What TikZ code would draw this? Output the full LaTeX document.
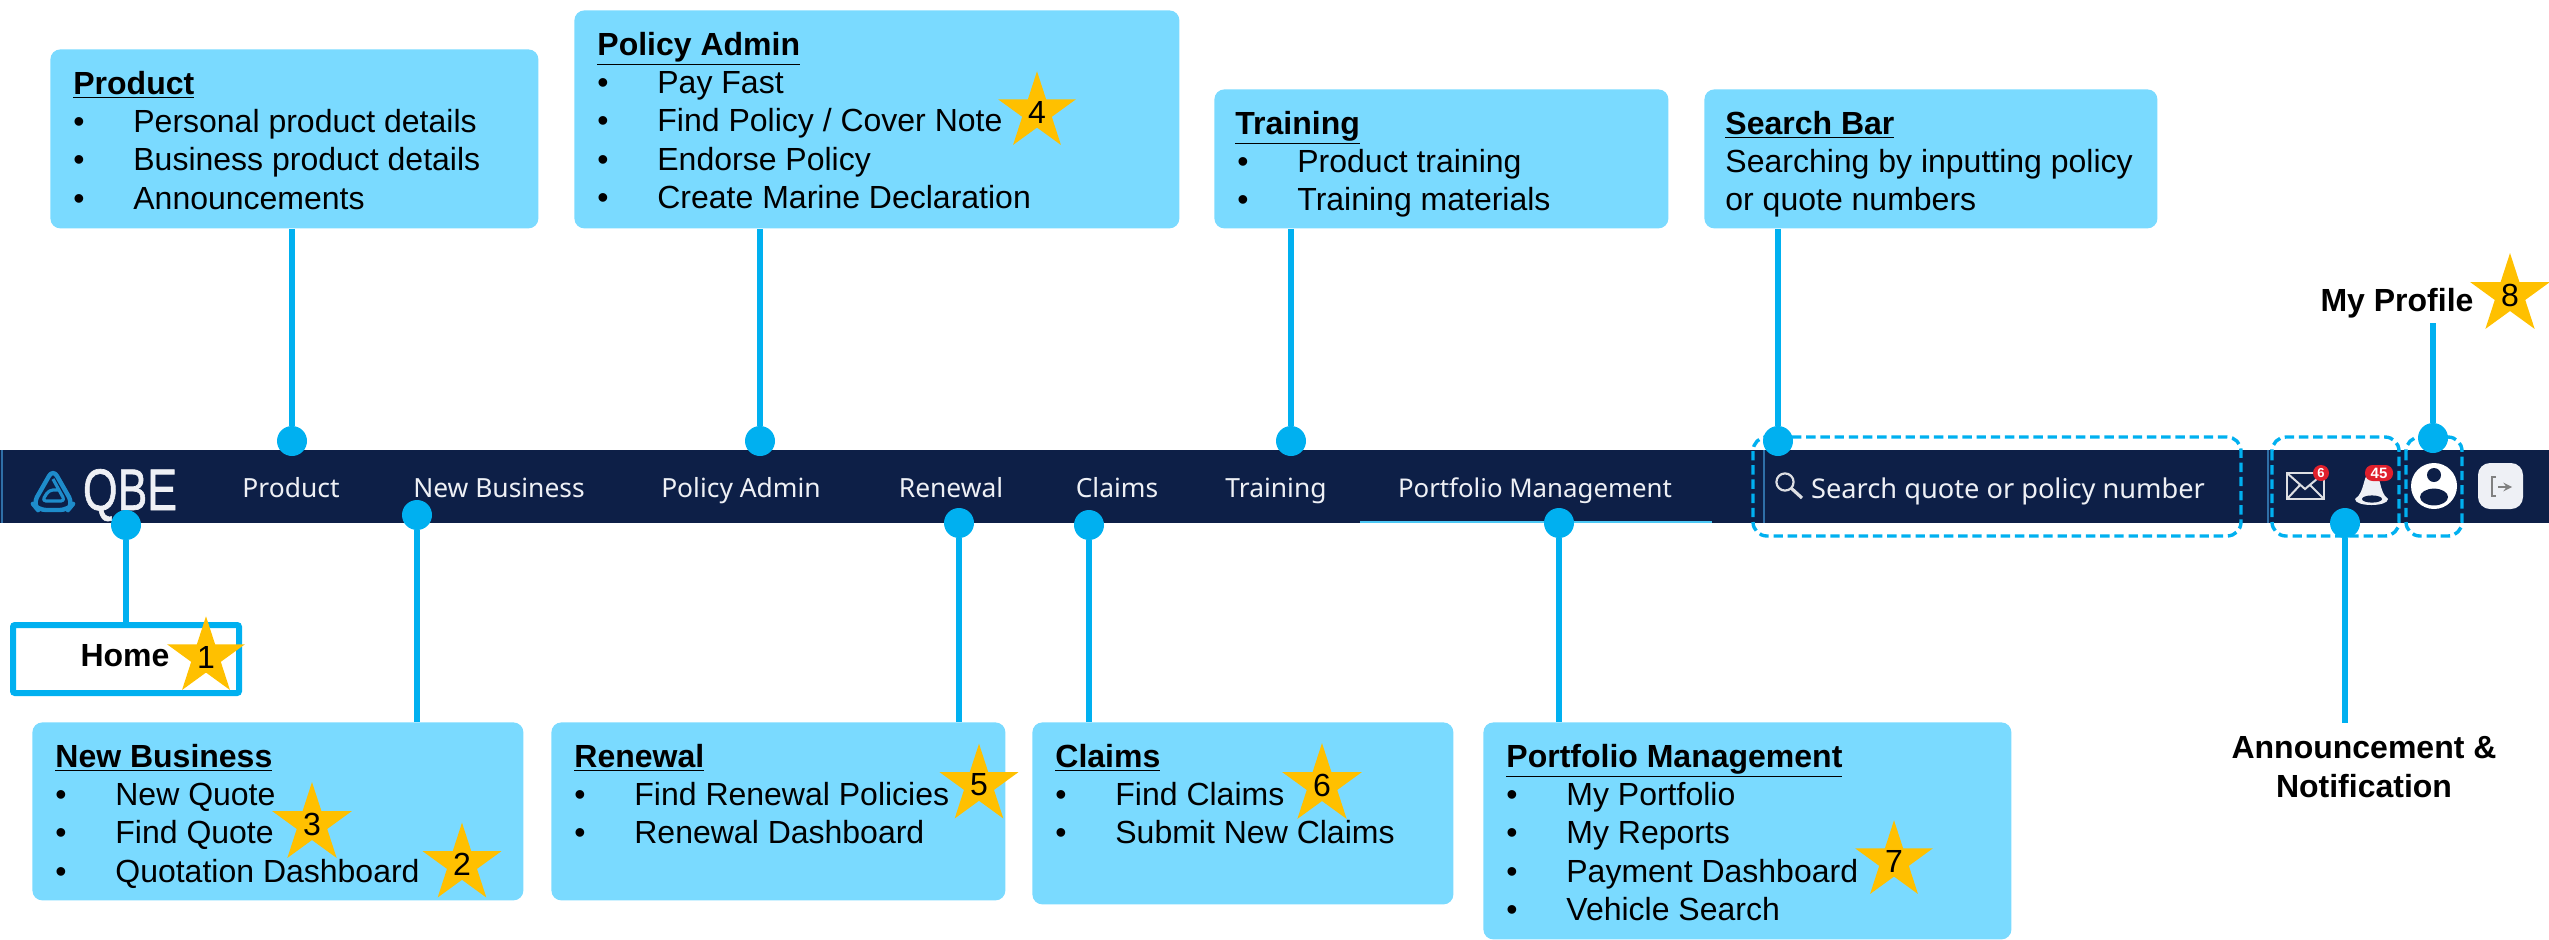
\documentclass[tikz,border=0pt]{standalone}
\usepackage{fontspec}
\usepackage{graphicx}
\setmainfont{Liberation Sans}
\newfontfamily\navfont{Noto Sans}
\newfontfamily\logofont[FakeBold=1.2]{Liberation Sans}
\usetikzlibrary{shapes.geometric}
\definecolor{boxfill}{HTML}{7ADAFF}
\definecolor{linkblue}{HTML}{00B0F0}
\definecolor{starfill}{HTML}{FFC000}
\definecolor{barfill}{HTML}{0D1F47}
\definecolor{navtext}{HTML}{EEF0F5}
\definecolor{logoblue}{HTML}{1E8CCB}
\definecolor{sepblue}{HTML}{2F6FA8}
\definecolor{badge}{HTML}{E0202C}
\newlength\pxu \setlength\pxu{0.5pt}
\newcommand{\infotext}[3]{\parbox[c][\dimexpr#2\pxu-21.5pt\relax][t]{\dimexpr#1\pxu-23pt\relax}{\setlength{\baselineskip}{19.2pt}#3}}
\newcommand{\ttl}[1]{\underline{\textbf{#1}}}
\newcommand{\itm}[1]{\makebox[30pt][l]{•}#1}
\newcommand{\starnum}[1]{\raisebox{-1.7pt}{#1}}
\tikzset{
  infobox/.style={fill=boxfill,rounded corners=5pt,inner xsep=11.5pt,inner ysep=10.75pt,anchor=north west,font=\fontsize{16}{19.2}\selectfont,text=black},
  navlabel/.style={text=navtext,font=\navfont\fontsize{13.2}{16}\selectfont,inner sep=0pt,anchor=base},
  dotmark/.style={circle,fill=linkblue,minimum size=15pt,inner sep=0pt},
  link/.style={draw=linkblue,line width=2.9pt},
  dashbox/.style={draw=linkblue,line width=1.7pt,dash pattern=on 4.7pt off 2.4pt,rounded corners=7pt},
  numstar/.style={star,star points=5,star point ratio=2.618,fill=starfill,minimum size=37pt,inner sep=0pt,font=\fontsize{16}{19.2}\selectfont,text=black},
  boldlabel/.style={font=\bfseries\fontsize{16}{19.2}\selectfont,text=black,align=center,inner sep=0pt},
}
\begin{document}
\begin{tikzpicture}[x=0.5pt,y=-0.5pt]
\useasboundingbox (0,0) rectangle (2549,939);
% nav bar
\fill[barfill] (0,450) rectangle (2549,523);
\draw[sepblue,line width=1pt] (1.5,450) -- (1.5,523);
\draw[sepblue,line width=1pt] (1764,450) -- (1764,523);
\draw[sepblue,line width=1pt] (2268,450) -- (2268,523);
\draw[linkblue!70!white,line width=1pt] (1360,522) -- (1712,522);
% logo
\begin{scope}[logoblue,line join=round]
\draw[line width=2.2pt,rounded corners=4pt] (53,469) -- (73,504) -- (68,510) -- (38,510) -- (33,504) -- cycle;
\draw[line width=1.6pt,rounded corners=2pt] (53,479) -- (65,501) -- (42,501) -- (49,490) -- (60,490);
\end{scope}
\node[inner sep=0pt,text=navtext,font=\logofont\fontsize{29.3}{30}\selectfont,anchor=base] (logotext) at (130,510) {\scalebox{0.76}[1]{QBE}};
% nav labels
\node[navlabel] (navProduct) at (291,497) {Product};
\node[navlabel] (navNew) at (499,497) {New Business};
\node[navlabel] (navPolicy) at (741,497) {Policy Admin};
\node[navlabel] (navRenewal) at (951,497) {Renewal};
\node[navlabel] (navClaims) at (1117,497) {Claims};
\node[navlabel] (navTraining) at (1276,497) {Training};
\node[navlabel,font=\navfont\fontsize{12.9}{16}\selectfont] (navPortfolio) at (1535,497) {Portfolio Management};
\node[navlabel,font=\navfont\fontsize{13.6}{16}\selectfont] (navSearch) at (2008,498) {Search quote or policy number};
% icons
\draw[navtext!85!gray,line width=1.1pt] (1785,482) circle[radius=4.3pt];
\draw[navtext!85!gray,line width=1.6pt] (1791,488) -- (1802,498);
\draw[navtext!85!gray,line width=1.1pt] (2287,473) rectangle (2324,499);
\draw[navtext!85!gray,line width=1pt] (2287,473) -- (2305,489) -- (2324,473);
\draw[navtext!85!gray,line width=1pt] (2287,499) -- (2300,485) (2324,499) -- (2310,485);
\node[circle,fill=badge,minimum size=8pt,inner sep=0pt,text=white,font=\bfseries\fontsize{6.5}{7}\selectfont] (badgeMail) at (2321,473) {6};
\fill[navtext] (2372,472) .. controls (2362,472) and (2366,492) .. (2355,499) .. controls (2355,507) and (2388,507) .. (2388,499) .. controls (2378,492) and (2382,472) .. (2372,472) -- cycle;
\fill[barfill] (2372,499) ellipse[x radius=5pt,y radius=1.8pt];
\node[rectangle,rounded corners=3.8pt,fill=badge,minimum width=14pt,minimum height=8pt,inner sep=0pt,text=white,font=\bfseries\fontsize{7.5}{8}\selectfont] (badgeBell) at (2379,473) {45};
\fill[white] (2434,486) circle[radius=11.5pt];
\fill[barfill] (2434,475) circle[radius=3.5pt];
\fill[barfill] (2434,497) ellipse[x radius=7pt,y radius=4.2pt];
\fill[navtext,rounded corners=6pt] (2478,463) rectangle (2523,509);
\draw[gray,line width=0.9pt] (2496,477) -- (2492,477) -- (2492,496) -- (2496,496);
\draw[gray,line width=0.9pt,->,>=stealth] (2498,487) -- (2512,487);
% dashed highlights
\draw[dashbox] (1753,437) rectangle (2241,536);
\draw[dashbox] (2272,437) rectangle (2399,536);
\draw[dashbox] (2406,437) rectangle (2462,536);
% info boxes
\node[infobox] (boxProduct) at (50,49) {\infotext{488}{179}{\ttl{Product}\\\itm{Personal product details}\\\itm{Business product details}\\\itm{Announcements}}};
\node[infobox] (boxPolicy) at (574,10) {\infotext{605}{218}{\ttl{Policy Admin}\\\itm{Pay Fast}\\\itm{Find Policy / Cover Note}\\\itm{Endorse Policy}\\\itm{Create Marine Declaration}}};
\node[infobox] (boxTraining) at (1214,89) {\infotext{454}{139}{\hspace*{-1pt}\ttl{Training}\\\itm{Product training}\\\itm{Training materials}}};
\node[infobox] (boxSearch) at (1704,89) {\infotext{453}{139}{\hspace*{-1pt}\ttl{Search Bar}\\\hspace*{-1pt}Searching by inputting policy\\\hspace*{-1pt}or quote numbers}};
\node[infobox] (boxNew) at (32,722) {\infotext{491}{178}{\ttl{New Business}\\\itm{New Quote}\\\itm{Find Quote}\\\itm{Quotation Dashboard}}};
\node[infobox] (boxRenewal) at (551,722) {\infotext{454}{178}{\ttl{Renewal}\\\itm{Find Renewal Policies}\\\itm{Renewal Dashboard}}};
\node[infobox] (boxClaims) at (1032,722) {\infotext{421}{182}{\ttl{Claims}\\\itm{Find Claims}\\\itm{Submit New Claims}}};
\node[infobox] (boxPortfolio) at (1483,722) {\infotext{528}{217}{\ttl{Portfolio Management}\\\itm{My Portfolio}\\\itm{My Reports}\\\itm{Payment Dashboard}\\\itm{Vehicle Search}}};
% home box and free labels
\node[draw=linkblue,line width=3pt,rounded corners=1pt,minimum width=113pt,minimum height=34pt,inner sep=0pt] (boxHome) at (126,659) {};
\node[boldlabel] (lblHome) at (125,656) {Home};
\node[boldlabel] (lblProfile) at (2397,303) {My Profile};
\node[boldlabel] (lblAnnounce) at (2364,767) {Announcement \&\\Notification};
% dots
\node[dotmark] (dotProduct) at (292,441) {};
\node[dotmark] (dotPolicy) at (760,441) {};
\node[dotmark] (dotTraining) at (1291,441) {};
\node[dotmark] (dotSearch) at (1778,441) {};
\node[dotmark] (dotProfile) at (2433,438) {};
\node[dotmark] (dotHome) at (126,525) {};
\node[dotmark] (dotNew) at (417,515) {};
\node[dotmark] (dotRenewal) at (959,523) {};
\node[dotmark] (dotClaims) at (1089,525) {};
\node[dotmark] (dotPortfolio) at (1559,523) {};
\node[dotmark] (dotAnnounce) at (2345,523) {};
\coordinate (endProfile) at (2433,323);
\coordinate (endAnnounce) at (2345,723);
% connectors
\draw[link] (boxProduct.south -| dotProduct) -- (dotProduct);
\draw[link] (boxPolicy.south -| dotPolicy) -- (dotPolicy);
\draw[link] (boxTraining.south -| dotTraining) -- (dotTraining);
\draw[link] (boxSearch.south -| dotSearch) -- (dotSearch);
\draw[link] (endProfile) -- (dotProfile);
\draw[link] (dotHome) -- (dotHome |- boxHome.north);
\draw[link] (dotNew) -- (dotNew |- boxNew.north);
\draw[link] (dotRenewal) -- (dotRenewal |- boxRenewal.north);
\draw[link] (dotClaims) -- (dotClaims |- boxClaims.north);
\draw[link] (dotPortfolio) -- (dotPortfolio |- boxPortfolio.north);
\draw[link] (dotAnnounce) -- (endAnnounce);
% stars
\node[numstar] (star1) at (206,657) {\starnum{1}};
\node[numstar] (star2) at (462,864) {\starnum{2}};
\node[numstar] (star3) at (312,824) {\starnum{3}};
\node[numstar] (star4) at (1037,112) {\starnum{4}};
\node[numstar] (star5) at (979,785) {\starnum{5}};
\node[numstar] (star6) at (1322,785) {\starnum{6}};
\node[numstar] (star7) at (1894,861) {\starnum{7}};
\node[numstar] (star8) at (2510,295) {\starnum{8}};
\end{tikzpicture}
\end{document}
